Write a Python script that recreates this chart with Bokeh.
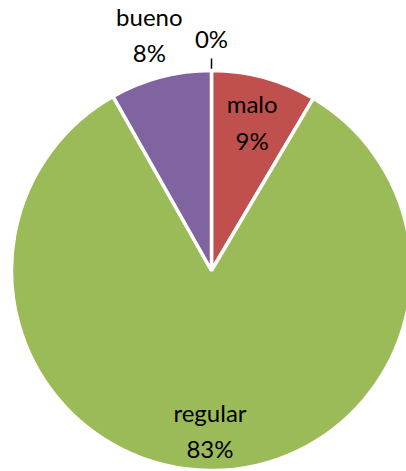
import math
from bokeh.plotting import figure
from bokeh.models import Range1d, ColumnDataSource
from bokeh.core.properties import value
from bokeh.embed import file_html
from bokeh.resources import INLINE

categories = ["malo", "regular", "bueno", ""]
values = [8.5, 83.3, 8.2, 0.0]
labels = ["malo\n9%", "regular\n83%", "bueno\n8%", "0%"]
colors = ["#C0504D", "#9BBB59", "#8064A2", "#4BACC6"]

W, H = 406, 471
cx, cy, R = 211, 201, 200
label_factor = [0.77, 0.80, 1.22, 1.16]

p = figure(width=W, height=H, x_range=Range1d(0, W), y_range=Range1d(0, H),
           output_backend="svg", toolbar_location=None, min_border=0)
p.axis.visible = False
p.xgrid.visible = False
p.ygrid.visible = False
p.outline_line_color = None

total = sum(values)
cum = 0.0
starts, ends, fills, lx, ly, ltxt = [], [], [], [], [], []
for cat, v, lab, col, f in zip(categories, values, labels, colors, label_factor):
    c0 = cum / total
    c1 = (cum + v) / total
    cum += v
    a0 = math.pi / 2 - 2 * math.pi * c0
    a1 = math.pi / 2 - 2 * math.pi * c1
    if v > 0:
        starts.append(a1)
        ends.append(a0)
        fills.append(col)
    mid = (a0 + a1) / 2
    lx.append(cx + R * f * math.cos(mid))
    ly.append(cy + R * f * math.sin(mid))
    ltxt.append(lab)
    if v == 0:
        p.segment(x0=cx + R * 1.0 * math.cos(mid), y0=cy + R * 1.0 * math.sin(mid),
                  x1=cx + R * 1.06 * math.cos(mid), y1=cy + R * 1.06 * math.sin(mid),
                  line_color="black", line_width=1.5)

src = ColumnDataSource(dict(start=starts, end=ends, color=fills))
p.wedge(x=cx, y=cy, radius=R, start_angle="start", end_angle="end",
        direction="anticlock", fill_color="color", line_color="white",
        line_width=3.5, source=src)

tsrc = ColumnDataSource(dict(x=lx, y=ly, text=ltxt))
p.text(x="x", y="y", text="text", source=tsrc, text_align="center",
       text_baseline="middle", text_font=value("Lato"), text_font_size="24px",
       text_color="black", text_line_height=1.25)

open("out.html", "w").write(file_html(p, INLINE))
